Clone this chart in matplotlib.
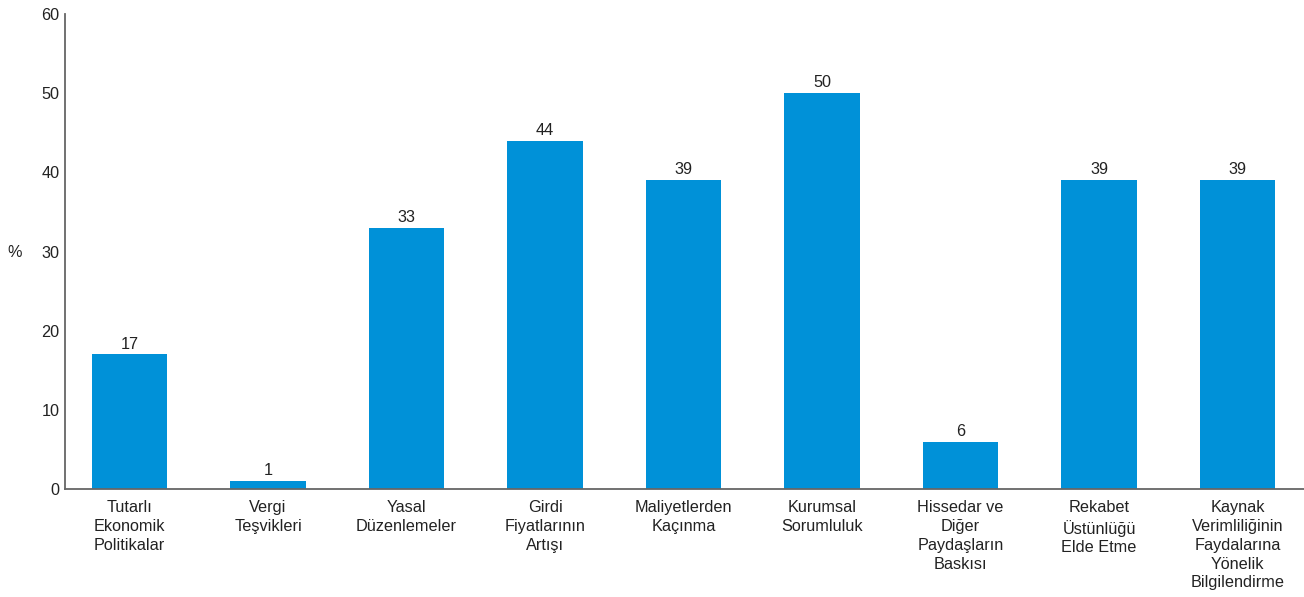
import matplotlib
matplotlib.use("Agg")
import matplotlib.pyplot as plt

plt.rcParams['font.family'] = ['Liberation Sans', 'DejaVu Sans']

categories = [
    "Tutarlı\nEkonomik\nPolitikalar",
    "Vergi\nTeşvikleri",
    "Yasal\nDüzenlemeler",
    "Girdi\nFiyatlarının\nArtışı",
    "Maliyetlerden\nKaçınma",
    "Kurumsal\nSorumluluk",
    "Hissedar ve\nDiğer\nPaydaşların\nBaskısı",
    "Rekabet\nÜstünlüğü\nElde Etme",
    "Kaynak\nVerimliliğinin\nFaydalarına\nYönelik\nBilgilendirme",
]
values = [17, 1, 33, 44, 39, 50, 6, 39, 39]
yticks = [0, 10, 20, 30, 40, 50, 60]

bar_color = "#0091D8"
text_color = "#222222"
spine_color = "#666666"
fs = 11.7

fig = plt.figure(figsize=(13.04, 5.97), dpi=100)
ax = fig.add_axes([65 / 1304, 108 / 597, 1 - 65 / 1304, (489 - 14) / 597])

x = list(range(len(categories)))
ax.bar(x, values, width=0.545, color=bar_color, zorder=2)

for xi, v in zip(x, values):
    ax.annotate(str(v), (xi, v), xytext=(0, 2), textcoords="offset points",
                ha="center", va="bottom", fontsize=fs, color=text_color)

ax.set_xlim(-0.466, 8.48)
ax.set_ylim(0, 60)
ax.set_yticks(yticks)
ax.set_xticks(x)
ax.set_xticklabels(categories, fontsize=fs, color=text_color, linespacing=1.32)
ax.tick_params(axis="y", length=0, pad=4, labelsize=fs, labelcolor=text_color)
ax.tick_params(axis="x", length=0, pad=8)

for side in ["top", "right"]:
    ax.spines[side].set_visible(False)
for side in ["left", "bottom"]:
    ax.spines[side].set_color(spine_color)
    ax.spines[side].set_linewidth(1.3)

fig.text(15 / 1304, 1 - 252 / 597, "%", fontsize=fs, color=text_color,
         ha="center", va="center")

fig.savefig("out.png", dpi=100)
